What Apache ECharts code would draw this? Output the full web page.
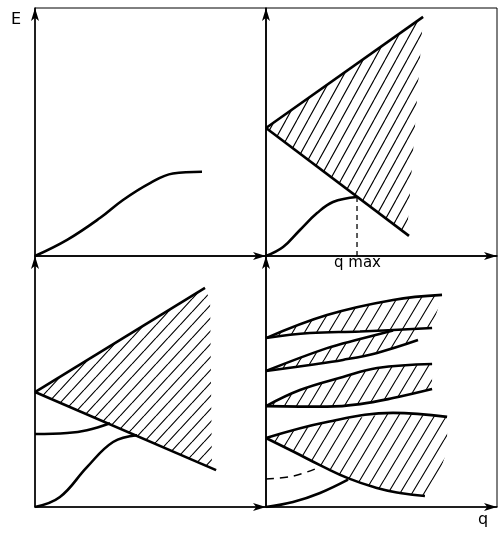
<!DOCTYPE html>
<html><head><meta charset="utf-8">
<script src="https://cdn.jsdelivr.net/npm/echarts@6/dist/echarts.min.js"></script>
<style>html,body{margin:0;padding:0;background:#fff}#c{width:500px;height:533px}</style>
</head><body><div id="c"></div>
<script>
// ---- data (normalized units: x 0..100, y 0..100 per panel) ----
// Panel 1 (top-left): single dispersion branch
const p1Curve = [[0,0],[13.9,6.5],[28.1,15.3],[38.1,22.6],[49.8,29.4],[59.7,33.3],[72.3,34.0]];
// Panel 2 (top-right): continuum wedge + branch ending at q max
const p2Upper = [[0,51.6],[68.0,96.4]];
const p2Lower = [[0,51.6],[61.9,8.1]];
const p2HatchEdge = [[61.0,8.7]];
const p2Curve = [[0,0],[7.4,3.6],[14.7,10.5],[22.1,17.3],[29.0,21.8],[39.4,23.8]];
const p2QmaxLine = [[39.4,23.8],[39.4,0]];
// Panel 3 (bottom-left): continuum wedge + two branches
const p3Upper = [[0,45.8],[73.6,87.3]];
const p3Lower = [[0,45.8],[78.4,14.7]];
const p3HatchEdge = [[75.8,82.0],[76.6,15.4]];
const p3CurveA = [[0,29.1],[13.9,29.5],[22.5,30.6],[32.5,33.4]];
const p3CurveB = [[0,0],[10.8,4.0],[22.5,15.9],[33.8,25.9],[44.2,28.6]];
// Panel 4 (bottom-right): several bands
const b1Upper = [[0,67.3],[26.4,76.5],[55.0,82.5],[76.2,84.5]];
const b1Lower = [[0,67.3],[19.0,69.3],[40.7,69.9],[71.9,71.3]];
const b2Upper = [[0,54.2],[26.4,63.3],[40.7,66.9],[55.0,70.3]];
const b2HatchTop = [[0,54.2],[26.4,63.3],[40.7,66.9],[55.0,70.4],[66.0,71.0]];
const b2Lower = [[0,54.2],[19.0,56.6],[33.3,58.6],[48.1,61.4],[65.8,66.5]];
const b3Upper = [[0,40.2],[14.7,46.6],[33.3,51.8],[48.1,55.4],[71.9,57.0]];
const b3Lower = [[0,40.2],[26.4,40.0],[40.7,41.0],[55.0,43.4],[71.9,47.0]];
const b4Upper = [[0,27.5],[26.4,33.9],[55.0,37.5],[78.4,35.9]];
const b4Lower = [[0,27.5],[12,22.0],[24,16.4],[36,11.3],[48,7.6],[58,5.6],[68.8,4.4]];
const b4HatchEdge = [[78.4,22.7],[72.5,6.5]];
const p4Dashed = [[0,11.2],[11.7,12.3],[22.5,15.6]];
const p4Curve = [[0,0],[11.7,2.0],[23.4,5.6],[35.5,10.9]];

// ---- hatch patterns (tile width = horizontal spacing, height sets the slope) ----
function hatch(W,H){
  const c=document.createElement('canvas');
  c.width=W;c.height=H;const g=c.getContext('2d');
  g.strokeStyle='#000';g.lineWidth=1.15;g.beginPath();
  for(let k=-1;k<=1;k++){g.moveTo(k*W,H);g.lineTo(k*W+W,0);}
  g.stroke();return {image:c,repeat:'repeat'};
}
const patA=hatch(11,20), patB=hatch(12,13), patC=hatch(12,20);

const grids=[
  {left:35,top:8,width:231,height:248},
  {left:266,top:8,width:231,height:248},
  {left:35,top:256,width:231,height:251},
  {left:266,top:256,width:231,height:251}
].map(g=>Object.assign(g,{show:true,borderColor:'#000',borderWidth:1,backgroundColor:'transparent'}));

function ax(i){
  return {gridIndex:i,type:'value',min:0,max:100,
    axisLine:{show:true,onZero:false,symbol:['none','arrow'],symbolSize:[6,13],lineStyle:{color:'#000',width:1.5}},
    axisTick:{show:false},axisLabel:{show:false},splitLine:{show:false}};
}
function poly(i,pts,pat){
  return {type:'custom',xAxisIndex:i,yAxisIndex:i,data:[0],silent:true,z:1,
    renderItem:(p,api)=>({type:'polygon',shape:{points:pts.map(q=>api.coord(q))},style:{fill:pat,stroke:null}})};
}
function line(i,d,opt){
  opt=opt||{};
  return {type:'line',xAxisIndex:i,yAxisIndex:i,data:d,showSymbol:false,silent:true,z:3,
    smooth:opt.smooth===undefined?0.4:opt.smooth,
    lineStyle:{color:'#000',width:opt.w||2.6,type:opt.type||'solid'}};
}
const rev=a=>a.slice().reverse();

const series=[
  line(0,p1Curve),
  poly(1,p2Upper.concat(p2HatchEdge),patA),
  line(1,p2Upper,{smooth:false}),line(1,p2Lower,{smooth:false}),line(1,p2Curve),
  line(1,p2QmaxLine,{smooth:false,w:1.3,type:[5,4]}),
  poly(2,p3Upper.concat(p3HatchEdge),patB),
  line(2,p3Upper,{smooth:false}),line(2,p3Lower,{smooth:false}),line(2,p3CurveA),line(2,p3CurveB),
  poly(3,b1Upper.concat(rev(b1Lower)),patC),
  poly(3,b2HatchTop.concat(rev(b2Lower)),patC),
  poly(3,b3Upper.concat(rev(b3Lower)),patC),
  poly(3,b4Upper.concat(b4HatchEdge,rev(b4Lower)),patC),
  line(3,b1Upper),line(3,b1Lower),line(3,b2Upper),line(3,b2Lower),
  line(3,b3Upper),line(3,b3Lower),line(3,b4Upper),line(3,b4Lower,{smooth:0.5}),
  line(3,p4Dashed,{w:1.5,type:[8,6]}),line(3,p4Curve)
];

const chart=echarts.init(document.getElementById('c'),null,{renderer:'canvas'});
chart.setOption({
  animation:false,backgroundColor:'#fff',
  grid:grids,
  xAxis:[0,1,2,3].map(ax),yAxis:[0,1,2,3].map(ax),
  series:series,
  graphic:[
    {type:'text',left:11,top:12,style:{text:'E',font:'16px "DejaVu Sans"',fill:'#000'}},
    {type:'text',left:334,top:256,style:{text:'q max',font:'15px "DejaVu Sans"',fill:'#000'}},
    {type:'text',left:478,top:512,style:{text:'q',font:'16px "DejaVu Sans"',fill:'#000'}}
  ]
});
</script></body></html>
